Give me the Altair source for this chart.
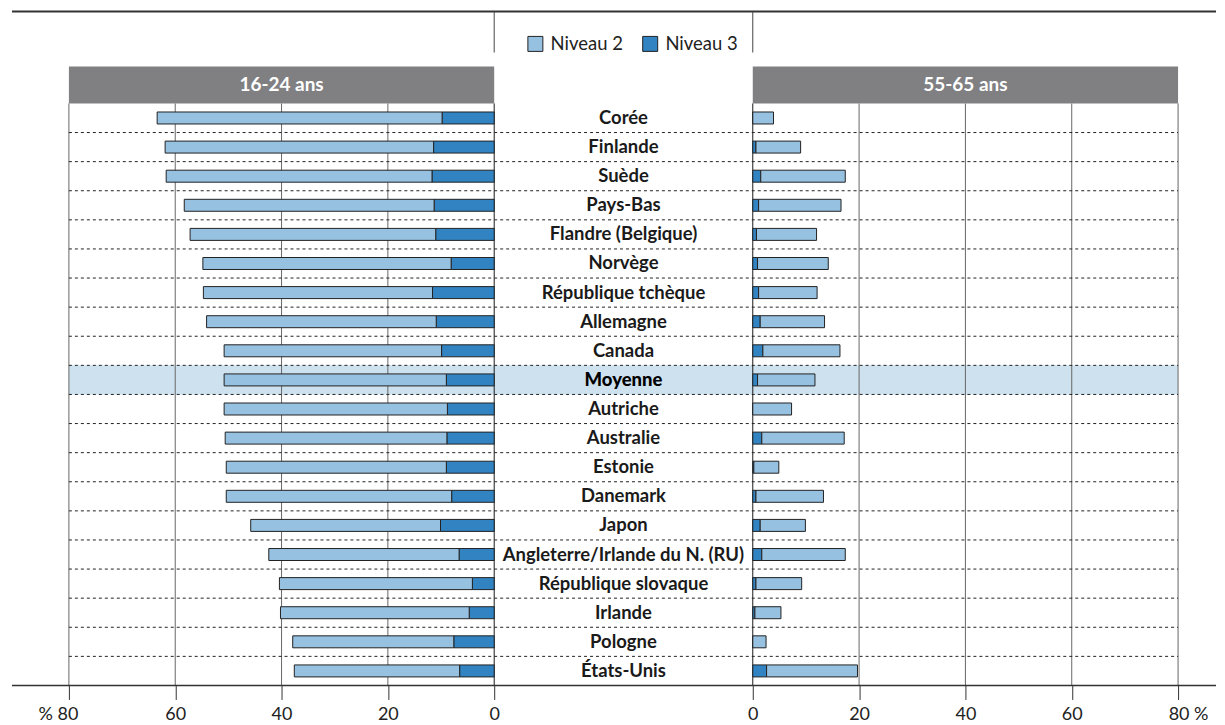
import altair as alt
import pandas as pd

countries = [
    "Corée", "Finlande", "Suède", "Pays-Bas", "Flandre (Belgique)", "Norvège",
    "République tchèque", "Allemagne", "Canada", "Moyenne", "Autriche", "Australie",
    "Estonie", "Danemark", "Japon", "Angleterre/Irlande du N. (RU)",
    "République slovaque", "Irlande", "Pologne", "États-Unis",
]
# 16-24 ans
young_n2 = [53.6, 50.5, 50.0, 47.0, 46.2, 46.7, 43.1, 43.2, 40.9, 41.8,
            42.0, 41.7, 41.4, 42.4, 35.7, 35.8, 36.3, 35.5, 30.3, 31.1]
young_n3 = [9.8, 11.4, 11.7, 11.3, 11.0, 8.1, 11.6, 10.9, 9.9, 9.0,
            8.8, 8.9, 9.0, 8.0, 10.1, 6.6, 4.1, 4.7, 7.6, 6.5]
# 55-65 ans
old_n2 = [3.9, 8.4, 15.9, 15.5, 11.3, 13.3, 11.0, 12.1, 14.5, 10.8,
          7.3, 15.5, 4.7, 12.7, 8.5, 15.7, 8.6, 4.9, 2.5, 17.1]
old_n3 = [0.0, 0.6, 1.5, 1.1, 0.7, 0.9, 1.1, 1.4, 1.9, 0.9,
          0.0, 1.7, 0.2, 0.6, 1.4, 1.7, 0.6, 0.4, 0.0, 2.6]

levels = ["Niveau 2", "Niveau 3"]
level_colors = ["#97c1e1", "#3283c1"]
panel_titles = ["16-24 ans", "55-65 ans"]
tick_values = [0, 20, 40, 60, 80]
highlight = "Moyenne"

FONT = "Lato"
W, H = 1210, 678

L_SCALE = alt.Scale(domain=[0, 80], range=[487, 61], nice=False)
R_SCALE = alt.Scale(domain=[0, 80], range=[746, 1172], nice=False)
Y_SCALE = alt.Scale(domain=countries, range=[95, 678], paddingInner=0, paddingOuter=0)


def long_df(n2, n3):
    rows = []
    for c, a, b in zip(countries, n2, n3):
        rows.append({"country": c, "level": levels[1], "value": b, "ord": 0})
        rows.append({"country": c, "level": levels[0], "value": a, "ord": 1})
    return pd.DataFrame(rows)


df_young = long_df(young_n2, young_n3)
df_old = long_df(old_n2, old_n3)

LEGEND = alt.Legend(
    orient="none", legendX=519, legendY=26, direction="horizontal", title=None,
    symbolType="square", symbolSize=225, symbolStrokeColor="#222", symbolStrokeWidth=1,
    labelFont=FONT, labelFontSize=18.5, labelColor="#222", labelOffset=6,
    columnPadding=17, padding=0,
)


def make_axis(expr, offset):
    return alt.Axis(
        orient="bottom",
        values=tick_values, grid=False, domain=False, ticks=True, tickSize=14,
        tickColor="#333", tickWidth=1, labelFont=FONT, labelFontSize=18,
        labelColor="#222", labelPadding=6, title=None, labelFlush=False,
        labelOverlap=False, labelBound=False, labelExpr=expr,
        labelOffset={"condition": {"test": "datum.value == 80", "value": offset}, "value": 0},
    )


def bars(df, scale, axis):
    return alt.Chart(df).mark_bar(size=12, stroke="#222", strokeWidth=1).encode(
        x=alt.X("value:Q", stack="zero", scale=scale, axis=axis),
        y=alt.Y("country:N", scale=Y_SCALE, sort=countries, axis=None),
        color=alt.Color("level:N", scale=alt.Scale(domain=levels, range=level_colors), legend=LEGEND),
        order=alt.Order("ord:Q"),
    )


grid_df = pd.DataFrame({"v": tick_values})


def grid(scale):
    return alt.Chart(grid_df).mark_rule(strokeWidth=1).encode(
        x=alt.X("v:Q", scale=scale, axis=None),
        y=alt.value(95), y2=alt.value(H),
        color=alt.condition("datum.v == 0", alt.value("#1a1a1a"), alt.value("#666")),
    )


def header(scale, title):
    hdf = pd.DataFrame({"a": [80], "b": [0], "mid": [40], "t": [title]})
    rect = alt.Chart(hdf).mark_rect(color="#808083").encode(
        x=alt.X("a:Q", scale=scale, axis=None), x2="b:Q",
        y=alt.value(58), y2=alt.value(95),
    )
    txt = alt.Chart(hdf).mark_text(font=FONT, fontSize=19, fontWeight="bold", color="white").encode(
        x=alt.X("mid:Q", scale=scale, axis=None), y=alt.value(77), text="t:N",
    )
    top = alt.Chart(pd.DataFrame({"z": [0]})).mark_rule(color="#444", strokeWidth=1).encode(
        x=alt.X("z:Q", scale=scale, axis=None), y=alt.value(3), y2=alt.value(44),
    )
    return rect, txt, top


cdf = pd.DataFrame({"country": countries})

band = alt.Chart(cdf).transform_filter(f"datum.country == '{highlight}'").mark_rect(color="#cde1ef").encode(
    y=alt.Y("country:N", scale=Y_SCALE, sort=countries, axis=None),
    x=alt.value(61), x2=alt.value(1172),
)

seps = alt.Chart(pd.DataFrame({"country": countries[1:]})).mark_rule(
    color="#222", strokeWidth=1, strokeDash=[3, 3]
).encode(
    y=alt.Y("country:N", scale=Y_SCALE, sort=countries, axis=None, bandPosition=0),
    x=alt.value(61), x2=alt.value(1172),
)

labels = alt.Chart(cdf).transform_filter(f"datum.country != '{highlight}'").mark_text(
    font=FONT, fontSize=18.5, fontWeight="bold", color="#1a1a1a"
).encode(
    y=alt.Y("country:N", scale=Y_SCALE, sort=countries, axis=None),
    x=alt.value(616.5), text="country:N",
)
labels_hl = alt.Chart(cdf).transform_filter(f"datum.country == '{highlight}'").mark_text(
    font=FONT, fontSize=18.5, fontWeight=900, color="#000"
).encode(
    y=alt.Y("country:N", scale=Y_SCALE, sort=countries, axis=None),
    x=alt.value(616.5), text="country:N",
)

top_line = alt.Chart(pd.DataFrame({"k": [0]})).mark_rule(color="#333", strokeWidth=2).encode(
    x=alt.value(4), x2=alt.value(W), y=alt.value(3),
)
bottom_line = alt.Chart(pd.DataFrame({"k": [0]})).mark_rule(color="#333", strokeWidth=1.5).encode(
    x=alt.value(4), x2=alt.value(W), y=alt.value(H),
)

lh_rect, lh_txt, l_top = header(L_SCALE, panel_titles[0])
rh_rect, rh_txt, r_top = header(R_SCALE, panel_titles[1])

chart = alt.layer(
    band,
    grid(L_SCALE), grid(R_SCALE),
    seps,
    lh_rect, rh_rect, lh_txt, rh_txt,
    bars(df_young, L_SCALE, make_axis("datum.value == 80 ? '% 80' : datum.label", -11)),
    bars(df_old, R_SCALE, make_axis("datum.value == 80 ? '80 %' : datum.label", 10)),
    labels, labels_hl,
    top_line, l_top, r_top,
    bottom_line,
).resolve_scale(x="independent").properties(
    width=W, height=H, padding=0,
).configure_view(stroke=None)

chart.save("out.html", embed_options={"renderer": "svg", "actions": False})
